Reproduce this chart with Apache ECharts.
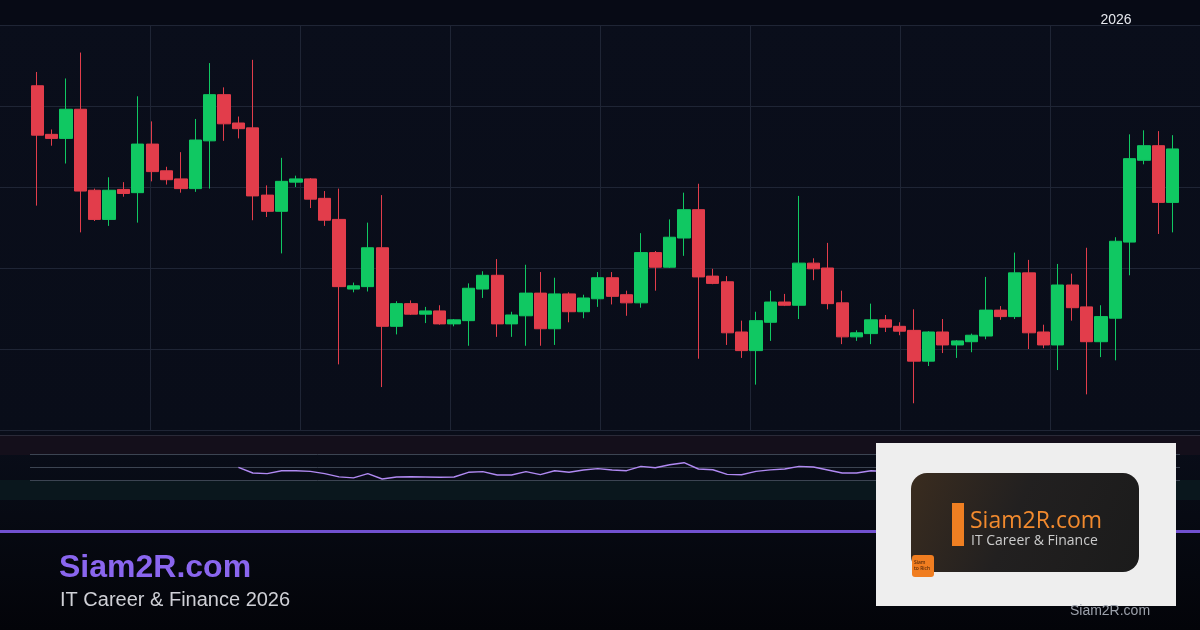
<!DOCTYPE html>
<html>
<head>
<meta charset="utf-8">
<script src="https://cdn.jsdelivr.net/npm/echarts@6/dist/echarts.min.js"></script>
<style>
html,body{margin:0;padding:0;background:#0a0e1b;}
#chart{width:1200px;height:630px;}
</style>
</head>
<body>
<div id="chart"></div>
<script>
// ---- Data ----
const categories = Array.from({length: 80}, (_, i) => 'D' + (i + 1));

const opens = [142.5,136.5,136.0,139.6,129.6,126.0,129.7,129.3,135.3,132.0,
  131.0,129.8,135.7,141.4,137.9,137.3,129.0,127.0,130.6,131.0,
  128.6,126.0,117.4,117.7,122.5,112.8,115.6,114.3,114.7,113.1,
  113.5,117.4,119.1,113.1,114.1,116.9,112.5,116.8,114.6,116.2,
  118.8,116.7,115.7,121.9,120.1,123.7,127.2,119.0,118.3,112.1,
  109.8,113.3,115.8,115.4,120.6,120.0,115.7,111.5,111.9,113.6,
  112.8,112.3,108.5,112.1,110.5,110.9,111.6,114.8,114.0,119.4,
  112.1,110.5,117.9,115.2,110.9,113.8,123.2,133.3,135.1,128.1];

const closes = [136.4,136.0,139.6,129.5,126.0,129.6,129.2,135.3,131.9,130.9,
  129.8,135.8,141.4,137.8,137.2,128.9,127.0,130.7,131.0,128.5,
  125.9,117.7,117.8,122.5,112.8,115.6,114.3,114.7,113.1,113.6,
  117.5,119.1,113.1,114.2,116.9,112.5,116.8,114.6,116.3,118.8,
  116.5,115.7,121.9,120.1,123.8,127.2,118.9,118.1,112.0,109.8,
  113.5,115.8,115.4,120.6,119.9,115.6,111.5,112.0,113.6,112.7,
  112.2,108.5,112.1,110.5,111.0,111.7,114.8,114.0,119.4,112.0,
  110.5,117.9,115.1,110.9,114.0,123.3,133.5,135.1,128.1,134.7];

const lows = [127.7,135.1,132.9,124.4,125.8,125.2,128.8,125.6,130.7,130.3,
  129.3,129.4,129.8,135.7,136.0,125.9,126.3,121.8,130.0,127.4,
  125.2,108.1,117.0,117.1,105.3,111.8,114.2,113.2,113.0,112.8,
  110.4,116.3,111.5,111.5,110.4,110.4,110.5,113.3,113.8,115.2,
  115.5,114.1,115.1,117.2,120.0,121.5,108.8,118.0,110.5,108.9,
  105.6,111.0,115.3,113.7,118.5,114.9,110.6,111.0,110.6,112.1,
  111.7,103.3,107.9,109.5,108.9,109.6,111.2,113.6,113.7,110.0,
  110.1,107.4,113.5,104.4,109.0,108.6,119.1,132.8,124.2,124.4];

const highs = [144.2,137.1,143.4,146.6,129.8,131.2,130.6,141.2,138.1,132.5,
  134.3,138.4,145.3,142.3,138.7,145.7,130.2,133.6,131.4,131.1,
  129.5,129.8,118.2,125.6,129.0,115.9,116.0,115.2,115.4,113.7,
  118.1,119.6,121.1,114.6,120.4,119.5,118.8,117.0,116.7,119.5,
  119.5,117.2,124.3,122.1,126.0,129.3,130.4,119.9,119.0,113.5,
  114.6,117.2,116.8,128.9,121.2,123.1,117.2,112.3,115.6,114.2,
  113.3,114.9,112.2,113.7,111.1,111.9,118.9,115.3,121.9,121.0,
  113.0,120.5,119.3,122.5,115.4,123.8,136.5,137.0,136.9,136.4];

const rsi = [null,null,null,null,null,null,null,null,null,null,
  null,null,null,null,50.3,41.5,40.5,45.0,45.0,44.0,
  40.5,35.5,34.0,40.5,32.3,35.4,35.8,35.4,35.0,35.4,
  42.6,43.6,38.5,38.5,43.6,39.0,45.0,42.6,46.2,48.2,
  46.2,45.1,51.8,49.7,54.3,57.4,47.7,46.6,39.5,38.9,
  44.0,46.4,47.7,51.8,50.8,46.2,41.5,41.5,45.1,44.0,
  43.0,36.0,40.0,38.0,39.0,40.0,46.0,44.0,52.0,44.0,
  42.0,50.0,47.0,43.0,46.0,58.0,68.0,70.0,60.0,65.0];

const rsiLevels = [30, 50, 70];
const yearLabel = '2026';
const brandTitle = 'Siam2R.com';
const brandSub = 'IT Career & Finance 2026';
const logoSub = 'IT Career & Finance';

// ---- Build ----
const candleData = opens.map((o, i) => [o, closes[i], lows[i], highs[i]]);
const UP = '#10c862', DOWN = '#e23d4b';
const chart = echarts.init(document.getElementById('chart'), null, {renderer: 'canvas'});

const LZ = {z: 100, zlevel: 1};
const option = {
  animation: false,
  backgroundColor: {
    type: 'linear', x: 0, y: 0, x2: 0, y2: 1,
    colorStops: [
      {offset: 0, color: '#0a0e1b'},
      {offset: 0.7, color: '#090d19'},
      {offset: 0.82, color: '#070a13'},
      {offset: 1, color: '#030409'}
    ]
  },
  grid: [
    {left: 0, right: 0, top: 25, height: 405},
    {left: 30, right: 20, top: 25, height: 405},
    {left: 30, right: 20, top: 435, height: 65}
  ],
  xAxis: [
    {type: 'value', gridIndex: 0, min: 0, max: 1200, interval: 150,
      axisLine: {show: false}, axisTick: {show: false}, axisLabel: {show: false},
      splitLine: {show: true, showMinLine: false, showMaxLine: false, lineStyle: {color: '#1f2535', width: 1}}},
    {type: 'category', gridIndex: 1, data: categories, boundaryGap: true, show: false},
    {type: 'category', gridIndex: 2, data: categories, boundaryGap: true, show: false}
  ],
  yAxis: [
    {type: 'value', gridIndex: 0, min: 100, max: 150, interval: 10,
      axisLine: {show: false}, axisTick: {show: false}, axisLabel: {show: false},
      splitLine: {show: true, lineStyle: {color: '#1f2535', width: 1}}},
    {type: 'value', gridIndex: 1, min: 100, max: 150, show: false, splitLine: {show: false}},
    {type: 'value', gridIndex: 2, min: 0, max: 100, show: false, splitLine: {show: false}}
  ],
  series: [
    {type: 'scatter', xAxisIndex: 0, yAxisIndex: 0, data: [], silent: true},
    {
      type: 'candlestick', xAxisIndex: 1, yAxisIndex: 1,
      data: candleData, barWidth: '88%',
      itemStyle: {color: UP, color0: DOWN, borderColor: UP, borderColor0: DOWN, borderWidth: 1}
    },
    {
      type: 'line', xAxisIndex: 2, yAxisIndex: 2, data: rsi,
      showSymbol: false, connectNulls: false,
      lineStyle: {color: '#b089f2', width: 1.4},
      z: 5,
      markLine: {
        silent: true, symbol: ['none', 'none'], label: {show: false},
        lineStyle: {color: '#3c4452', type: 'solid', width: 1},
        data: rsiLevels.map(v => ({yAxis: v}))
      }
    }
  ],
  graphic: [
    {type: 'rect', z: -1, shape: {x: 0, y: 0, width: 1200, height: 25}, style: {fill: '#070a15'}},
    {type: 'rect', z: -1, shape: {x: 0, y: 435, width: 1200, height: 20}, style: {fill: '#140f1b'}},
    {type: 'rect', z: -1, shape: {x: 0, y: 480, width: 1200, height: 20}, style: {fill: '#0a171d'}},
    {type: 'line', z: -1, shape: {x1: 0, y1: 435.5, x2: 1200, y2: 435.5}, style: {stroke: '#2a2a38', lineWidth: 1}},
    {type: 'rect', shape: {x: 0, y: 530, width: 1200, height: 3}, style: {fill: '#7151d0'}},
    {type: 'text', style: {x: 1116, y: 20, text: yearLabel, fill: '#e6e8ee', font: '14px "Liberation Sans", Arial, sans-serif', align: 'center', verticalAlign: 'middle'}},
    {type: 'text', style: {x: 59, y: 568, text: brandTitle, fill: '#8a66ef', font: 'bold 32px "Liberation Sans", Arial, sans-serif', align: 'left', verticalAlign: 'middle'}},
    {type: 'text', style: {x: 60, y: 600, text: brandSub, fill: '#cfd0d6', font: '20px "Liberation Sans", Arial, sans-serif', align: 'left', verticalAlign: 'middle'}},
    Object.assign({type: 'rect', shape: {x: 876, y: 443, width: 300, height: 163}, style: {fill: '#eeeeee'}}, LZ),
    Object.assign({type: 'rect', shape: {x: 911, y: 473, width: 228, height: 99, r: 16},
      style: {fill: {type: 'linear', x: 0, y: 0, x2: 1, y2: 1,
        colorStops: [{offset: 0, color: '#3a2c1f'}, {offset: 0.45, color: '#222020'}, {offset: 1, color: '#1b1b1b'}]}}}, LZ),
    Object.assign({type: 'rect', shape: {x: 952, y: 503, width: 12, height: 43}, style: {fill: '#ef7f22'}}, LZ),
    Object.assign({type: 'text', style: {x: 970, y: 521, text: brandTitle, fill: '#f28a2e', font: '500 23px "Open Sans", "Noto Sans", sans-serif', align: 'left', verticalAlign: 'middle'}}, LZ),
    Object.assign({type: 'text', style: {x: 971, y: 541, text: logoSub, fill: '#cccccc', font: '14px "Open Sans", "Noto Sans", sans-serif', align: 'left', verticalAlign: 'middle'}}, LZ),
    Object.assign({type: 'rect', shape: {x: 912, y: 555, width: 22, height: 22, r: 3}, style: {fill: '#f07d20'}}, LZ),
    Object.assign({type: 'text', style: {x: 914, y: 566, text: 'Siam\nto Rich', fill: '#3a1a05', font: '5px "Noto Sans", sans-serif', align: 'left', verticalAlign: 'middle', lineHeight: 6}}, LZ),
    Object.assign({type: 'text', style: {x: 1110, y: 611, text: brandTitle, fill: '#9ca1ab', font: '14px "Liberation Sans", Arial, sans-serif', align: 'center', verticalAlign: 'middle'}}, LZ)
  ]
};
chart.setOption(option);
</script>
</body>
</html>
